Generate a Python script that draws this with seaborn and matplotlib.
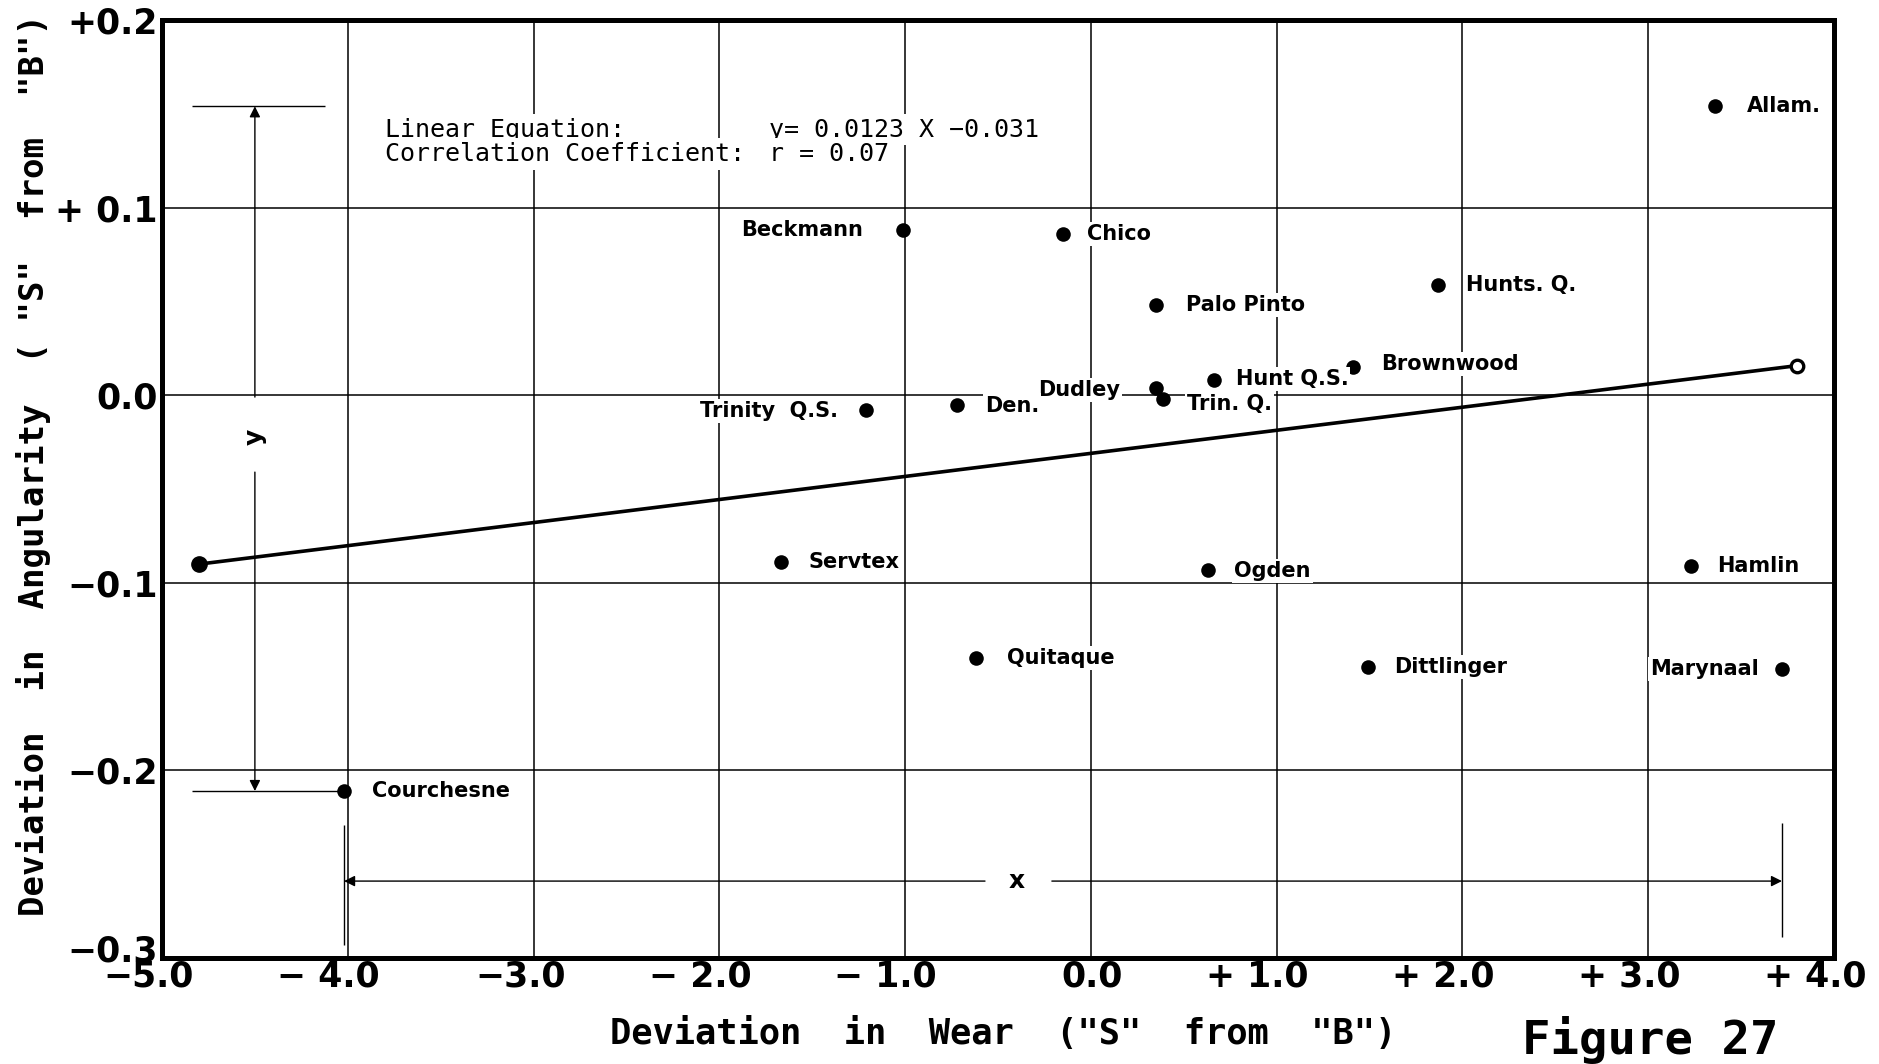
import matplotlib
matplotlib.use("Agg")
import matplotlib.pyplot as plt
import matplotlib.transforms as mtransforms
import numpy as np
import pandas as pd
import seaborn as sns

# --- data -------------------------------------------------------------
sites = ["Allam.", "Beckmann", "Chico", "Palo Pinto", "Hunts. Q.", "Brownwood",
         "Hunt Q.S.", "Dudley", "Trin. Q.", "Den.", "Trinity  Q.S.", "Servtex",
         "Ogden", "Hamlin", "Quitaque", "Dittlinger", "Marynaal", "Courchesne"]
wear = [3.36, -1.01, -0.15, 0.35, 1.87, 1.41,
        0.66, 0.35, 0.39, -0.72, -1.21, -1.67,
        0.63, 3.23, -0.62, 1.49, 3.72, -4.02]
angularity = [0.154, 0.088, 0.086, 0.048, 0.059, 0.015,
              0.008, 0.004, -0.002, -0.005, -0.008, -0.089,
              -0.093, -0.091, -0.140, -0.145, -0.146, -0.211]

slope = 0.0123
intercept = -0.031
corr_r = 0.07
fit_range = [-4.8, 3.8]

x_ticks = [-5.0, -4.0, -3.0, -2.0, -1.0, 0.0, 1.0, 2.0, 3.0, 4.0]
x_tick_labels = ["\u22125.0", "\u2212 4.0", "\u22123.0", "\u2212 2.0", "\u2212 1.0",
                 "0.0", "+ 1.0", "+ 2.0", "+ 3.0", "+ 4.0"]
y_ticks = [-0.3, -0.2, -0.1, 0.0, 0.1, 0.2]
y_tick_labels = ["\u22120.3", "\u22120.2", "\u22120.1", "0.0", "+ 0.1", "+0.2"]

# label placement (pixel offsets from each dot, alignment)
label_place = {
    "Allam.": (32, 0, "left"), "Beckmann": (-40, 0, "right"), "Chico": (24, 0, "left"),
    "Palo Pinto": (30, 0, "left"), "Hunts. Q.": (28, 0, "left"),
    "Brownwood": (28, 3, "left"), "Hunt Q.S.": (22, 1, "left"),
    "Dudley": (-36, -2, "right"), "Trin. Q.": (24, -5, "left"), "Den.": (28, -1, "left"),
    "Trinity  Q.S.": (-28, -1, "right"), "Servtex": (28, 0, "left"),
    "Ogden": (26, -1, "left"), "Hamlin": (26, 0, "left"), "Quitaque": (31, 0, "left"),
    "Dittlinger": (26, 0, "left"), "Marynaal": (-23, 0, "right"),
    "Courchesne": (28, 0, "left"),
}

df = pd.DataFrame({"site": sites, "wear": wear, "angularity": angularity})

# --- figure -----------------------------------------------------------
sns.set_theme(style="white")
plt.rcParams["font.family"] = ["DejaVu Sans"]
plt.rcParams["axes.unicode_minus"] = True
for key in ("text.color", "axes.labelcolor", "xtick.color", "ytick.color"):
    plt.rcParams[key] = "black"

MONO = ["DejaVu Sans Mono"]

fig = plt.figure(figsize=(18.79, 10.64), dpi=100)
ax = fig.add_axes([162 / 1879, 1 - 958 / 1064, 1672 / 1879, 938 / 1064])

ax.set_xlim(-5.0, 4.0)
ax.set_ylim(-0.3, 0.2)
ax.set_xticks(x_ticks)
ax.set_yticks(y_ticks)
ax.grid(True, color="black", linewidth=1.1)
ax.set_axisbelow(True)
for sp in ax.spines.values():
    sp.set_color("black")
    sp.set_linewidth(3.6)

# observations
sns.scatterplot(data=df, x="wear", y="angularity", ax=ax, color="black",
                s=110, edgecolor="black", linewidth=0, zorder=5, legend=False)

for name, xv, yv in zip(sites, wear, angularity):
    dx, dy, ha = label_place[name]
    ax.annotate(name, (xv, yv), xytext=(dx, dy), textcoords="offset pixels",
                ha=ha, va="center", fontsize=15, fontweight="bold", zorder=6,
                bbox=dict(boxstyle="square,pad=0.1", fc="white", ec="none"))

# regression line
fit_x = np.array(fit_range)
fit_y = slope * fit_x + intercept
sns.lineplot(x=fit_x, y=fit_y, ax=ax, color="black", linewidth=2.6, zorder=4)
ax.plot(fit_x[0], fit_y[0], "o", color="black", markersize=11, zorder=6)
ax.plot(fit_x[1], fit_y[1], "o", mfc="white", mec="black", mew=2.4,
        markersize=9, zorder=6)

# equation block
eq_kw = dict(fontsize=18, va="center", ha="left", zorder=6, family=MONO,
             bbox=dict(boxstyle="square,pad=0.15", fc="white", ec="none"))
ax.text(-3.80, 0.1415, "Linear Equation:", **eq_kw)
ax.text(-1.73, 0.1415, f"y= {slope} X \u2212{abs(intercept)}", **eq_kw)
ax.text(-3.80, 0.1285, "Correlation Coefficient:", **eq_kw)
ax.text(-1.73, 0.1285, f"r = {corr_r:.2f}", **eq_kw)

# range of y (dimension arrow)
y_hi, y_lo = max(angularity), min(angularity)
x_lo, x_hi = min(wear), max(wear)
arrow_kw = dict(arrowstyle="-|>", color="black", lw=1.0, mutation_scale=16,
                shrinkA=0, shrinkB=0)
ya = -4.5
ax.hlines(y_hi, -4.84, -4.12, color="black", lw=1.0, zorder=3)
ax.hlines(y_lo, -4.84, -4.03, color="black", lw=1.0, zorder=3)
ax.annotate("", xy=(ya, y_hi), xytext=(ya, -0.001), arrowprops=arrow_kw, zorder=3)
ax.annotate("", xy=(ya, y_lo), xytext=(ya, -0.041), arrowprops=arrow_kw, zorder=3)
ax.text(ya, -0.022, "y", rotation=90, ha="center", va="center",
        fontsize=18, fontweight="bold")

# range of x (dimension arrow)
xa = -0.259
ax.vlines(x_lo, -0.293, -0.229, color="black", lw=1.0, zorder=3)
ax.vlines(x_hi, -0.289, -0.228, color="black", lw=1.0, zorder=3)
ax.annotate("", xy=(x_lo, xa), xytext=(-0.57, xa), arrowprops=arrow_kw, zorder=3)
ax.annotate("", xy=(x_hi, xa), xytext=(-0.21, xa), arrowprops=arrow_kw, zorder=3)
ax.text(-0.40, xa, "x", ha="center", va="center", fontsize=18, fontweight="bold")

# ticks and labels
ax.set_xticklabels(x_tick_labels, fontsize=25, fontweight="bold")
ax.set_yticklabels(y_tick_labels, fontsize=25, fontweight="bold")
ax.tick_params(axis="x", length=0, pad=1)
ax.tick_params(axis="y", length=0, pad=3)
shift = mtransforms.ScaledTranslation(32 / 100, 0, fig.dpi_scale_trans)
for lab in ax.get_xticklabels():
    lab.set_ha("right")
    lab.set_transform(lab.get_transform() + shift)
ylabs = ax.get_yticklabels()
ylabs[0].set_transform(ylabs[0].get_transform() +
                       mtransforms.ScaledTranslation(0, 10 / 100, fig.dpi_scale_trans))

ax.set_xlabel('Deviation  in  Wear  ("S"  from  "B")',
              fontsize=25.5, fontweight="bold", family=MONO)
ax.xaxis.set_label_coords(0.503, -0.081)
ax.xaxis.label.set_va("center")
ax.set_ylabel('Deviation  in  Angularity  ( "S"  from  "B")',
              fontsize=24.5, fontweight="bold", family=MONO)
ax.yaxis.set_label_coords(-0.077, 0.526)
ax.yaxis.label.set_va("center")

fig.text(1522 / 1879, 1 - 1040 / 1064, "Figure 27", fontsize=34,
         fontweight="bold", ha="left", va="center", family=MONO)

fig.savefig("out.png", dpi=100, facecolor="white")
